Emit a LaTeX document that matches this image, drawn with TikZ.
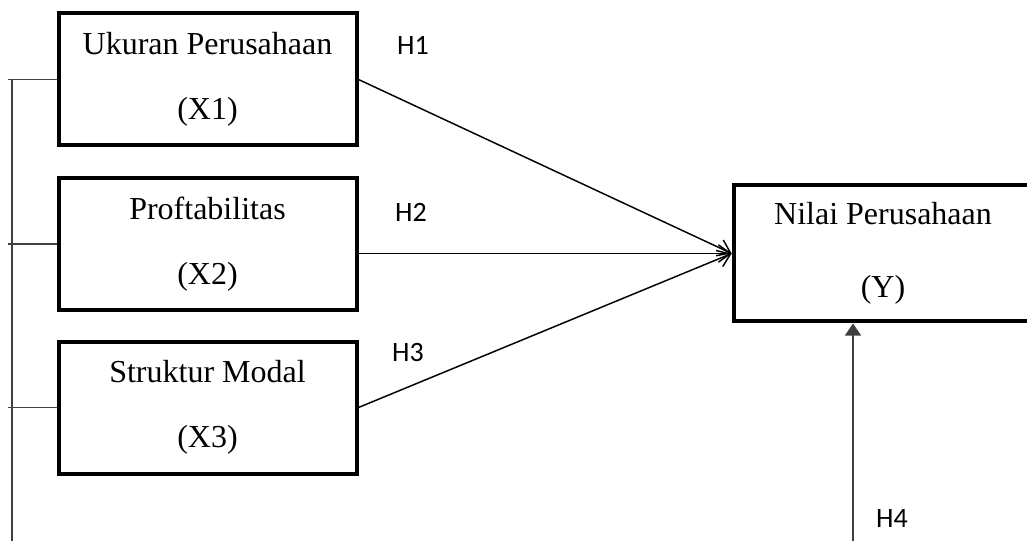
\documentclass[tikz,border=0pt]{standalone}
\usepackage{fontspec}
\setmainfont{Liberation Serif}
\newfontfamily\hfont{Carlito}
\usetikzlibrary{arrows.meta}

\begin{document}
\begin{tikzpicture}[x=0.75pt,y=-0.75pt,
    var/.style={draw, line width=3pt, minimum width=223.5pt, minimum height=99pt,
        inner sep=0pt, align=center, font=\fontsize{24}{48.75}\selectfont},
    hyp/.style={inner sep=0pt, font=\hfont\fontsize{21}{24}\selectfont},
    effect/.style={line width=1.1pt, -{Straight Barb[length=9pt,width=13pt]}},
    link/.style={line width=0.8pt, black!75}]
    \useasboundingbox (0,0) rectangle (1027,541);
    \clip (0,0) rectangle (1027,541);
    \node[var] (x1) at (207.5,79.5) {Ukuran Perusahaan\\(X1)};
    \node[var] (x2) at (207.5,244) {Proftabilitas\\(X2)};
    \node[var] (x3) at (207.5,407.5) {Struktur Modal\\(X3)};
    \node[var, minimum width=224pt, minimum height=102pt,
        font=\fontsize{24}{54.75}\selectfont] (y) at (883,253.5) {Nilai Perusahaan\\(Y)};
    \node[hyp] (h1) at (413,45) {H1};
    \node[hyp] (h2) at (411,212) {H2};
    \node[hyp] (h3) at (408,353) {H3};
    \node[hyp] (h4) at (892,519) {H4};
    \coordinate (b) at (12,541);
    \coordinate (t) at (8,0);
    \coordinate (m) at (853,541);
    \draw[link] (x1.west -| b) -- (b);
    \draw[link] (x1.west) -- (x1.west -| t);
    \draw[link] (x2.west) -- (x2.west -| t);
    \draw[link] (x3.west) -- (x3.west -| t);
    \draw[effect] (x1.east) -- (y.west);
    \draw[effect] (x2.east |- y.west) -- (y.west);
    \draw[effect] (x3.east) -- (y.west);
    \draw[link, -{Triangle[length=9pt,width=12pt]}] (m) -- (m |- y.south);
\end{tikzpicture}
\end{document}
